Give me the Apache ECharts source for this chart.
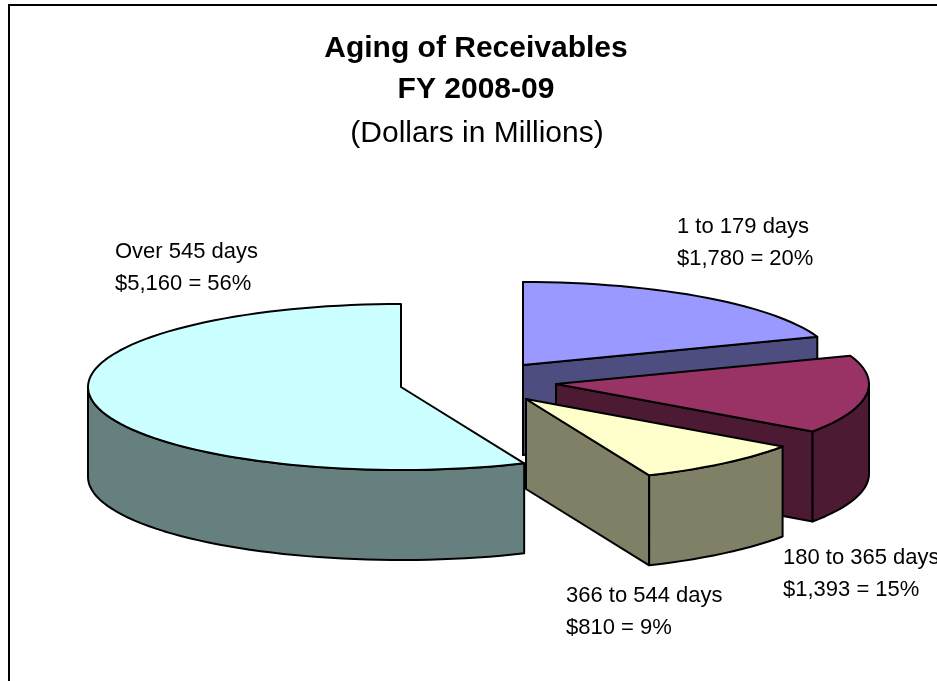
<!DOCTYPE html>
<html>
<head>
<meta charset="utf-8">
<style>
  html, body { margin: 0; padding: 0; background: #fff; overflow: hidden; }
  #chart { width: 937px; height: 681px; }
</style>
</head>
<body>
<div id="chart"></div>
<script src="https://cdn.jsdelivr.net/npm/echarts@6/dist/echarts.min.js"></script>
<script>
// data, clockwise from 12 o'clock
const categories = ['1 to 179 days', '180 to 365 days', '366 to 544 days', 'Over 545 days'];
const amounts = [1780, 1393, 810, 5160];
const valueLabels = ['$1,780 = 20%', '$1,393 = 15%', '$810 = 9%', '$5,160 = 56%'];

const titleLines = ['Aging of Receivables', 'FY 2008-09', '(Dollars in Millions)'];

// look of the pie
const topColors = ['#9999ff', '#993366', '#ffffcc', '#ccffff'];
const sideColors = ['#4d4d80', '#4d1a33', '#808066', '#668080'];
const sliceCenters = [[523, 365], [556, 384], [526, 399], [401, 387]];
const labelAnchors = [[677, 228], [783, 559], [566, 597], [115, 253]];
const RX = 313, RY = 83, DEPTH = 90;

const total = amounts.reduce((a, b) => a + b, 0);
let running = 0;
const rows = amounts.map(function (v) {
    const row = [v, running];
    running += v;
    return row;
});

function rim(c, t, drop) {
    return [c[0] + RX * Math.sin(t), c[1] - RY * Math.cos(t) + (drop || 0)];
}

function arc(c, from, to, drop) {
    const pts = [];
    const n = Math.max(2, Math.ceil((to - from) / 0.04));
    for (let i = 0; i <= n; i++) {
        pts.push(rim(c, from + (to - from) * i / n, drop));
    }
    return pts;
}

function face(points, fill) {
    return {
        type: 'polygon',
        shape: { points: points },
        style: { fill: fill, stroke: '#000', lineWidth: 2, lineJoin: 'round' }
    };
}

function renderSlice(params, api) {
    const i = params.dataIndex;
    const c = sliceCenters[i];
    const start = api.value(1) / total * Math.PI * 2;
    const end = (api.value(1) + api.value(0)) / total * Math.PI * 2;
    const side = sideColors[i];
    const low = [c[0], c[1] + DEPTH];
    const children = [];

    // flat cut faces, only the ones that look down at the viewer
    if (Math.sin(start) < 1e-6) {
        children.push(face([c, rim(c, start), rim(c, start, DEPTH), low], side));
    }
    if (Math.sin(end) > 1e-6) {
        children.push(face([c, rim(c, end), rim(c, end, DEPTH), low], side));
    }
    // outer wall, front half of the ellipse only
    const a = Math.max(start, Math.PI / 2);
    const b = Math.min(end, Math.PI * 1.5);
    if (b > a) {
        const upper = arc(c, a, b, 0);
        const lower = arc(c, a, b, DEPTH).reverse();
        children.push(face(upper.concat(lower), side));
    }
    children.push(face([c].concat(arc(c, start, end, 0)), topColors[i]));
    return { type: 'group', children: children };
}

const labelFont = { fontFamily: 'Liberation Sans', fontSize: 22, fill: '#000' };
const labelTexts = [];
categories.forEach(function (name, i) {
    labelTexts.push({
        type: 'text', left: labelAnchors[i][0], top: labelAnchors[i][1] - 12,
        style: Object.assign({ text: name }, labelFont)
    });
    labelTexts.push({
        type: 'text', left: labelAnchors[i][0], top: labelAnchors[i][1] + 20,
        style: Object.assign({ text: valueLabels[i] }, labelFont)
    });
});

const myChart = echarts.init(document.getElementById('chart'), null, { renderer: 'canvas' });
myChart.setOption({
    animation: false,
    backgroundColor: '#fff',
    title: [
        { text: titleLines[0], left: 476, top: 34, textAlign: 'center', padding: 0,
          textStyle: { fontFamily: 'Liberation Sans', fontSize: 30, fontWeight: 'bold', color: '#000' } },
        { text: titleLines[1], left: 476, top: 75, textAlign: 'center', padding: 0,
          textStyle: { fontFamily: 'Liberation Sans', fontSize: 30, fontWeight: 'bold', color: '#000' } },
        { text: titleLines[2], left: 477, top: 119, textAlign: 'center', padding: 0,
          textStyle: { fontFamily: 'Liberation Sans', fontSize: 30, fontWeight: 'normal', color: '#000' } }
    ],
    graphic: [{
        type: 'rect',
        shape: { x: 9, y: 5, width: 1200, height: 1000 },
        style: { fill: 'none', stroke: '#000', lineWidth: 2 },
        silent: true
    }].concat(labelTexts),
    series: [{
        type: 'custom',
        coordinateSystem: 'none',
        clip: false,
        silent: true,
        renderItem: renderSlice,
        data: rows
    }]
});
</script>
</body>
</html>
